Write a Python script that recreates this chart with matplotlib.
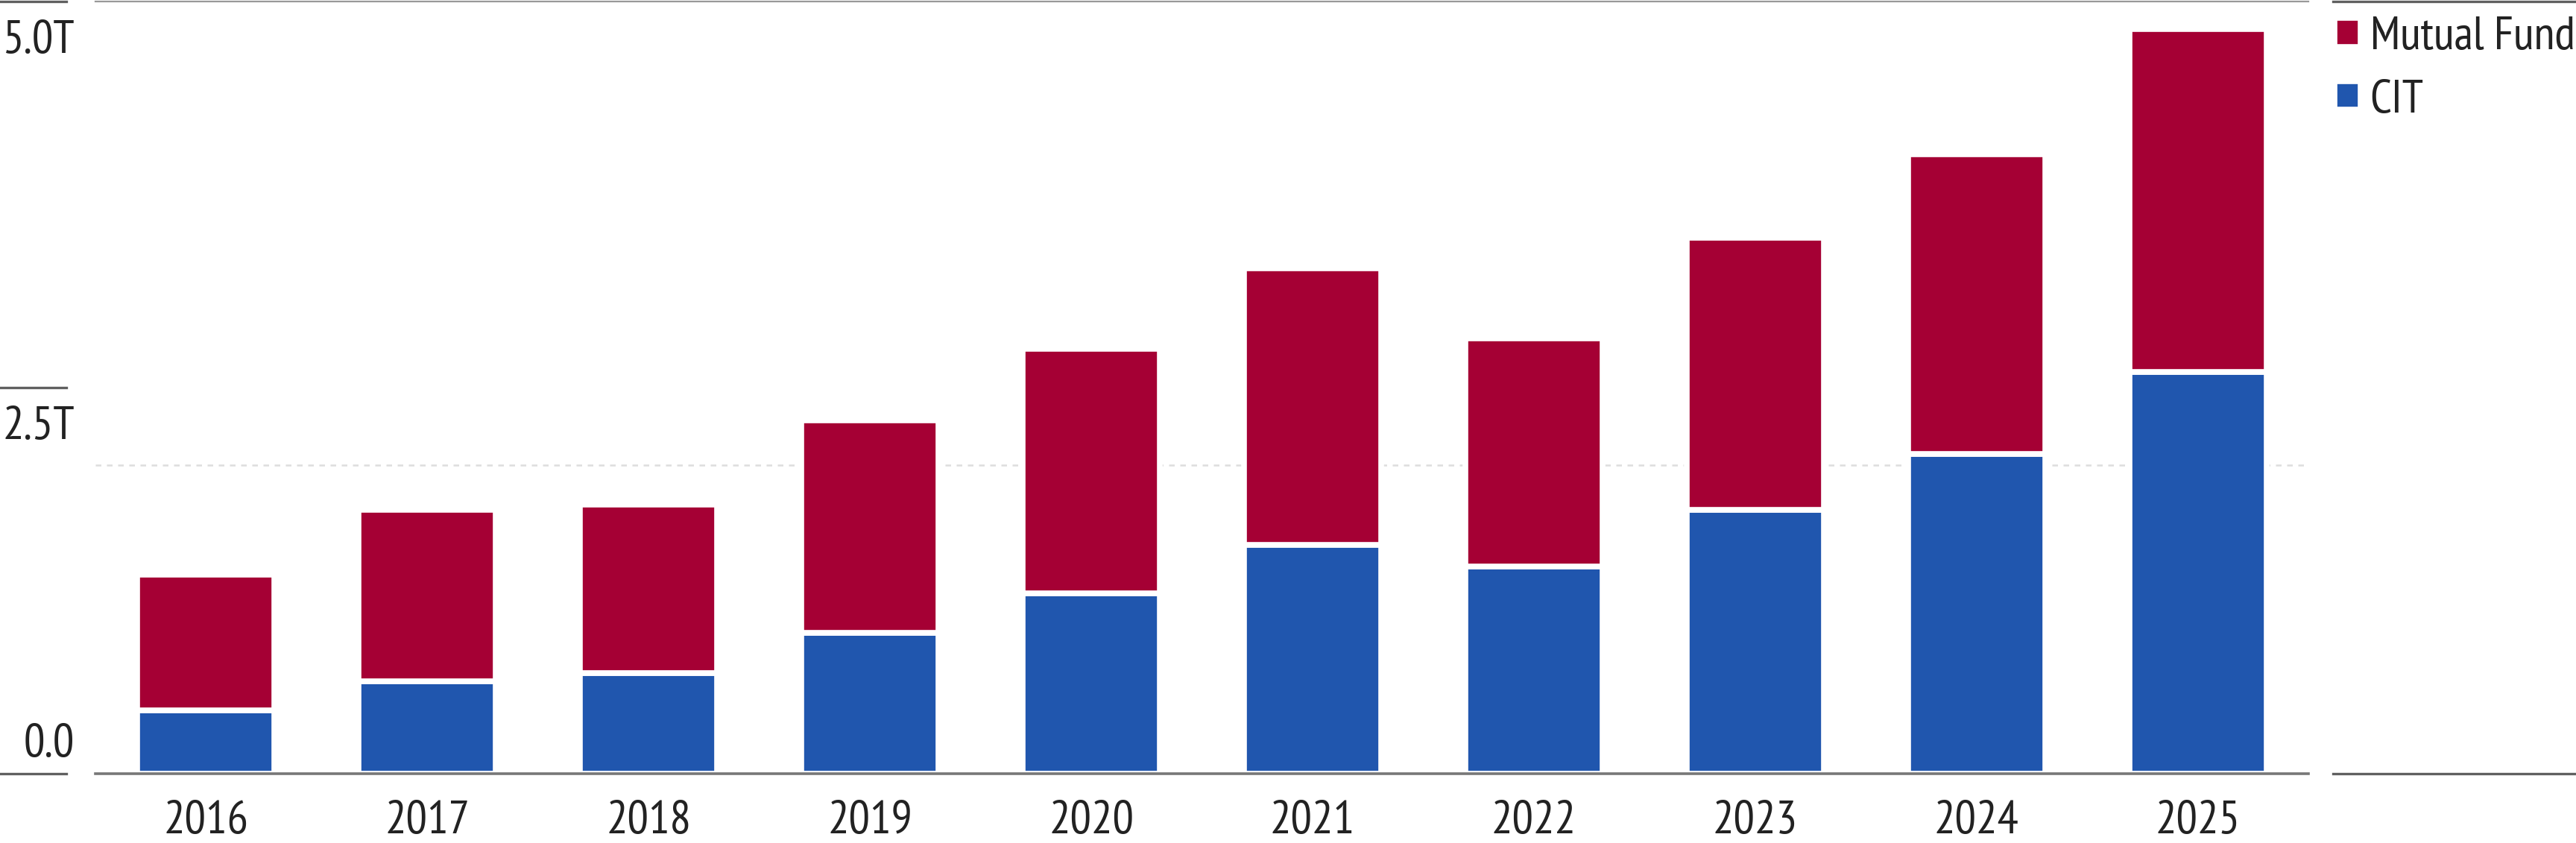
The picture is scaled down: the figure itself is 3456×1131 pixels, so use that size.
import matplotlib
matplotlib.use('Agg')
import matplotlib.pyplot as plt
from matplotlib import font_manager as fm
from matplotlib.lines import Line2D
from matplotlib.textpath import TextPath
from matplotlib.transforms import blended_transform_factory
import numpy as np

# data, trillions of USD
years = ['2016', '2017', '2018', '2019', '2020', '2021', '2022', '2023', '2024', '2025']
cit = [0.41, 0.60, 0.65, 0.91, 1.17, 1.48, 1.34, 1.71, 2.07, 2.60]
total = [1.29, 1.71, 1.74, 2.29, 2.75, 3.27, 2.82, 3.47, 4.01, 4.82]
mutual_fund = [t - c for t, c in zip(total, cit)]
ytick_vals = [0.0, 2.5, 5.0]
ytick_labels = ['0.0', '2.5T', '5.0T']
series_names = ['Mutual Fund', 'CIT']

RED = '#a50034'
BLUE = '#2056ae'
TEXT = '#222222'


def ink(s, fam, weight):
    e = TextPath((0, 0), s, size=100, prop=fm.FontProperties(family=fam, weight=weight)).get_extents()
    return e.width, e.height


# the original uses a narrow grotesque ("2016" is ~2.4x as wide as tall), find the closest one
installed = {f.name for f in fm.fontManager.ttflist}
candidates = [('Oswald', 300), ('Saira Extra Condensed', 400), ('Saira ExtraCondensed', 400),
              ('Barlow Condensed', 400), ('Roboto Condensed', 400), ('Archivo Narrow', 400),
              ('PT Sans Narrow', 400), ('Liberation Sans Narrow', 400)]
best = ('DejaVu Sans', 400)
best_err = 99
for fam, wt in candidates:
    if fam not in installed:
        continue
    w, h = ink('2016', fam, wt)
    err = abs(w / h - 2.37)
    if err < best_err:
        best, best_err = (fam, wt), err
font, weight = best
plt.rcParams['font.family'] = [font, 'DejaVu Sans']
plt.rcParams['font.weight'] = weight

# font size: cap height ~48 px, but "Mutual Fund" no wider than ~268 px
_, h = ink('2016', font, weight)
wm, _ = ink('Mutual Fund', font, weight)
FS = 48 * 72 / h
FS = min(FS, 268 * 72 / wm)

W, H = 3456, 1131
fig = plt.figure(figsize=(W / 100, H / 100), dpi=100)
left, right = 128 / W, 3097 / W
bottom, top = 1 - 1038 / H, 1 - 2 / H
ax = fig.add_axes([left, bottom, right - left, top - bottom])

x = np.arange(len(years))
b_cit = ax.bar(x, cit, width=0.62, color=BLUE, edgecolor='white', linewidth=5.5, zorder=2)
b_mf = ax.bar(x, mutual_fund, bottom=cit, width=0.62, color=RED, edgecolor='white',
              linewidth=5.5, zorder=2)

ax.set_xlim(-0.5, len(years) - 0.5)
ax.set_ylim(0, 5.0)

# dotted gridline
ax.axhline(2.0, color='#dddddd', lw=1.8, ls=(0, (3, 3)), zorder=1)

for s in ['left', 'right']:
    ax.spines[s].set_visible(False)
ax.spines['bottom'].set_color('#777777')
ax.spines['bottom'].set_linewidth(2.6)
ax.spines['bottom'].set_zorder(3)
ax.spines['top'].set_color('#999999')
ax.spines['top'].set_linewidth(1.6)

ax.set_yticks([])
ax.set_xticks(x)
ax.set_xticklabels(years, fontsize=FS, color=TEXT, va='baseline')
ax.tick_params(axis='x', length=0, pad=80 * 0.72)

# y labels in left gutter with short rules, right aligned but never off the left edge
tr = blended_transform_factory(fig.transFigure, ax.transData)
w_lab = max(ink(s, font, weight)[0] for s in ytick_labels) * FS / 72
x_lab = max(89, w_lab + 8) / W
for v, lab in zip(ytick_vals, ytick_labels):
    fig.add_artist(Line2D([0, 89 / W], [v, v], transform=tr, color='#606060', lw=2.4))
    y_txt = v + 0.11 if v == 0 else v - 0.335
    fig.text(x_lab, y_txt, lab, transform=tr, ha='right', va='baseline', fontsize=FS, color=TEXT)

# legend area rules
lx0 = 3130 / W
fig.add_artist(Line2D([lx0, 1], [top, top], transform=fig.transFigure, color='#606060', lw=2.4))
fig.add_artist(Line2D([lx0, 1], [bottom, bottom], transform=fig.transFigure, color='#606060', lw=2.4))

fig.legend([b_mf, b_cit], series_names, loc='upper left', bbox_to_anchor=(3132 / W, 1 - 22 / H),
           frameon=False, fontsize=FS, handlelength=0.55, handleheight=0.55, handletextpad=0.2,
           labelspacing=0.45, borderpad=0, borderaxespad=0, labelcolor=TEXT)

fig.savefig('out.png', dpi=100)
